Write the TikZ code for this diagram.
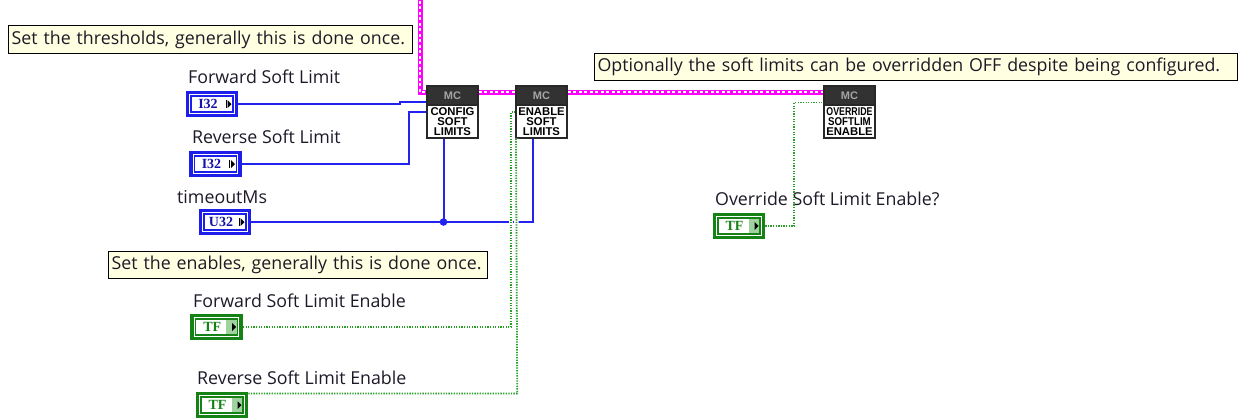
\documentclass[tikz,border=0pt]{standalone}
\usepackage{fontspec}
\setmainfont{Open Sans}
\newfontfamily\ctlfont{Liberation Serif}
\newfontfamily\fnfont{Liberation Sans}
\usetikzlibrary{calc}
\definecolor{ctlblue}{RGB}{30,30,235}
\definecolor{ctltext}{RGB}{20,20,170}
\definecolor{ctlgreen}{RGB}{20,130,20}
\definecolor{tfshade}{RGB}{160,210,160}
\definecolor{wireblue}{RGB}{35,35,240}
\definecolor{wiregreen}{RGB}{40,160,40}
\definecolor{wiremag}{RGB}{255,0,255}
\definecolor{cmtfill}{RGB}{255,255,225}
\definecolor{fnhead}{RGB}{50,50,50}
\definecolor{fnborder}{RGB}{40,40,40}
\definecolor{mcgray}{RGB}{165,165,165}
\definecolor{labeltext}{RGB}{30,25,40}
\begin{document}
\begin{tikzpicture}[x=1pt,y=-1pt,
  lbl/.style={anchor=west, inner sep=0pt, text=labeltext, font=\fontsize{17.8}{19}\selectfont},
  cmt/.style={draw=black, line width=1.2pt, fill=cmtfill, anchor=north west, inner xsep=3pt, inner ysep=0pt, align=left, text=labeltext, font=\fontsize{17.8}{19}\selectfont},
  ctl/.style={minimum width=49pt, minimum height=23pt, line width=3.5pt, fill=white, inner sep=0pt, font=\ctlfont\fontsize{14}{14}\selectfont\bfseries},
  numctl/.style={ctl, draw=ctlblue, text=ctltext, path picture={
      \draw[ctlblue, line width=1.2pt] ([shift={(3.5pt,3.5pt)}]path picture bounding box.south west) rectangle ([shift={(-3.5pt,-3.5pt)}]path picture bounding box.north east);
      \fill[black] ([shift={(-9pt,4pt)}]path picture bounding box.east) -- ([shift={(-5pt,0pt)}]path picture bounding box.east) -- ([shift={(-9pt,-4pt)}]path picture bounding box.east) -- cycle;
      \draw[black, line width=0.8pt] ([shift={(-10.5pt,4pt)}]path picture bounding box.east) -- ([shift={(-10.5pt,-4pt)}]path picture bounding box.east);
  }},
  boolctl/.style={ctl, draw=ctlgreen, text=ctlgreen, path picture={
      \fill[tfshade] ([shift={(-15pt,3.5pt)}]path picture bounding box.south east) rectangle ([shift={(-3.5pt,-3.5pt)}]path picture bounding box.north east);
      \draw[ctlgreen, line width=1.2pt] ([shift={(3.5pt,3.5pt)}]path picture bounding box.south west) rectangle ([shift={(-3.5pt,-3.5pt)}]path picture bounding box.north east);
      \fill[black] ([shift={(-9pt,4pt)}]path picture bounding box.east) -- ([shift={(-5pt,0pt)}]path picture bounding box.east) -- ([shift={(-9pt,-4pt)}]path picture bounding box.east) -- cycle;
  }},
  fnhd/.style={draw=fnborder, fill=fnhead, line width=1.4pt, minimum width=51pt, minimum height=19pt, inner sep=0pt, text=mcgray, font=\fnfont\fontsize{11}{11}\selectfont\bfseries},
  fnbd/.style={draw=fnborder, fill=white, line width=1.4pt, minimum width=51pt, minimum height=33pt, inner sep=0pt, align=center, text=black, font=\fnfont\fontsize{11.3}{9.9}\selectfont\bfseries},
  bwire/.style={draw=wireblue, line width=2pt},
  gdots/.style={draw=wiregreen, line width=1.8pt, dash pattern=on 1.3pt off 1.3pt},
  gwire/.style={gdots, preaction={draw=white, line width=4.5pt, solid}},
  refwire/.style={draw=wiremag, line width=5pt, postaction={draw=white, line width=1.5pt, dash pattern=on 3pt off 2.5pt}}
]
\useasboundingbox (0,0) rectangle (1240,418);

% comments
\node[cmt, text width=398pt, minimum height=28pt] (c1) at (8,25) {Set the thresholds, generally this is done once.};
\node[cmt, text width=637pt, minimum height=27pt] (c2) at (594,53) {Optionally the soft limits can be overridden OFF despite being configured.};
\node[cmt, text width=373pt, minimum height=27pt] (c3) at (108,251) {Set the enables, generally this is done once.};

% labels
\node[lbl] (l1) at (188,77) {Forward Soft Limit};
\node[lbl] (l2) at (192,137) {Reverse Soft Limit};
\node[lbl] (l3) at (177,197) {timeoutMs};
\node[lbl] (l4) at (193,301) {Forward Soft Limit Enable};
\node[lbl] (l5) at (197,378) {Reverse Soft Limit Enable};
\node[lbl] (l6) at (715,199) {Override Soft Limit Enable?};

% controls
\node[numctl] (fsl) at (212,104) {\hspace*{-8pt}I32};
\node[numctl] (rsl) at (215.5,164) {\hspace*{-8pt}I32};
\node[numctl] (tmo) at (225,222) {\hspace*{-8pt}U32};
\node[boolctl] (fse) at (216.7,327) {\hspace*{-9pt}TF};
\node[boolctl] (rse) at (222,405) {\hspace*{-9pt}TF};
\node[boolctl] (ose) at (739,226) {\hspace*{-9pt}TF};

% function nodes
\node[fnhd] (cfgh) at (452.5,95.5) {MC};
\node[fnbd] (cfg) at (452.5,121.5) {CONFIG\\SOFT\\LIMITS};
\node[fnhd] (enbh) at (541.5,95.5) {MC};
\node[fnbd] (enb) at (541.5,121.5) {ENABLE\\SOFT\\LIMITS};
\node[fnhd] (ovrh) at (849.5,95.5) {MC};
\node[fnbd] (ovr) at (849.5,121.5) {\scalebox{0.78}[1]{OVERRIDE}\\\scalebox{0.86}[1]{SOFTLIM}\\ENABLE};

% refnum wire
\coordinate (ptop) at (420,-5);
\draw[refwire] (ptop) |- ([yshift=3.5pt]cfgh.west);
\draw[refwire] ([yshift=3.5pt]cfgh.east) -- ([yshift=3.5pt]enbh.west);
\draw[refwire] ([yshift=3.5pt]enbh.east) -- ([yshift=3.5pt]ovrh.west);

% numeric wires
\draw[bwire] (fsl.east) -- ++(162,0) |- ([yshift=-6pt]cfgh.west);
\draw[bwire] (rsl.east) -- ++(167.5,0) |- ([yshift=10pt]cfg.west);
\coordinate (j) at (443.5,222);
\draw[bwire] (tmo.east) -- (j) -- ([xshift=-9pt]cfg.south);
\draw[bwire] (j) -| ([xshift=-8.5pt]enb.south);
\fill[wireblue] (j) circle (3.8pt);

% boolean wires
\draw[gwire] (fse.east) -- ++(268,0) |- ([yshift=9.5pt]enb.west);
\draw[gwire] ([yshift=11.5pt]rse.east) -- ++(269,0) -- ([xshift=0.7pt]enb.south west);
\draw[gdots] (ose.east) -- ++(29,0) |- ([yshift=-7pt]ovrh.west);
\end{tikzpicture}
\end{document}
